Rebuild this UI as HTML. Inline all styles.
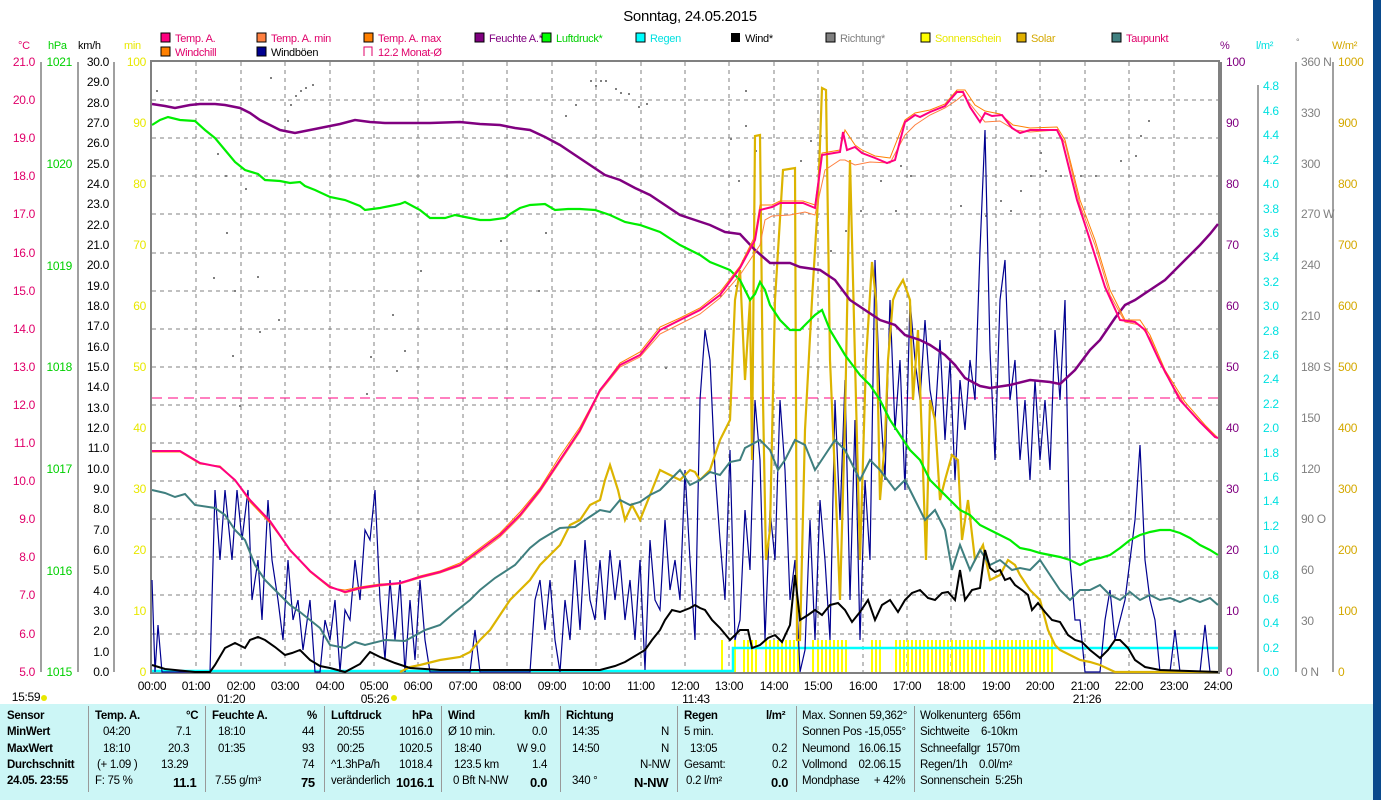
<!DOCTYPE html>
<html><head><meta charset="utf-8"><style>
body{margin:0;background:#fff;width:1381px;height:800px;overflow:hidden;position:relative;font-family:"Liberation Sans",sans-serif;}
svg{position:absolute;left:0;top:0}
.t{font-family:"Liberation Sans",sans-serif;font-size:12px;letter-spacing:-0.3px}
#tbl{position:absolute;left:0;top:704px;width:1373px;height:96px;background:#ccf6f6;font-size:11.5px;letter-spacing:-0.3px;font-family:"Liberation Sans",sans-serif}
#tbl div{position:absolute;white-space:nowrap}
.b{font-weight:bold}
.sep{width:1px;background:#999;top:2px;height:86px}
</style></head><body>
<svg width="1381" height="800" xmlns="http://www.w3.org/2000/svg">
<rect x="1373" y="0" width="8" height="800" fill="#0a4a8c"/>
<text x="690" y="21" font-size="15" text-anchor="middle" class="t" style="font-size:15px">Sonntag, 24.05.2015</text>
<g class="t" font-size="11">
<rect x="161" y="33" width="9" height="9" fill="#ff0080" stroke="#000"/><text x="175" y="42" fill="#e0006a" font-size="11">Temp. A.</text>
<rect x="257" y="33" width="9" height="9" fill="#ff8040" stroke="#000"/><text x="271" y="42" fill="#e0006a" font-size="11">Temp. A. min</text>
<rect x="364" y="33" width="9" height="9" fill="#ff8000" stroke="#000"/><text x="378" y="42" fill="#e0006a" font-size="11">Temp. A. max</text>
<rect x="475" y="33" width="9" height="9" fill="#800080" stroke="#000"/><text x="489" y="42" fill="#800080" font-size="11">Feuchte A.*</text>
<rect x="542" y="33" width="9" height="9" fill="#00ff00" stroke="#000"/><text x="556" y="42" fill="#00d000" font-size="11">Luftdruck*</text>
<rect x="636" y="33" width="9" height="9" fill="#00ffff" stroke="#000"/><text x="650" y="42" fill="#00e0e0" font-size="11">Regen</text>
<rect x="731" y="33" width="9" height="9" fill="#000"/><text x="745" y="42" fill="#000" font-size="11">Wind*</text>
<rect x="826" y="33" width="9" height="9" fill="#808080" stroke="#000"/><text x="840" y="42" fill="#808080" font-size="11">Richtung*</text>
<rect x="921" y="33" width="9" height="9" fill="#ffff00" stroke="#000"/><text x="935" y="42" fill="#e8e800" font-size="11">Sonnenschein</text>
<rect x="1017" y="33" width="9" height="9" fill="#e0b000" stroke="#000"/><text x="1031" y="42" fill="#d4a800" font-size="11">Solar</text>
<rect x="1112" y="33" width="9" height="9" fill="#408080" stroke="#000"/><text x="1126" y="42" fill="#e0006a" font-size="11">Taupunkt</text>
<rect x="161" y="47" width="9" height="9" fill="#ff8000" stroke="#000"/><text x="175" y="56" fill="#e0006a" font-size="11">Windchill</text>
<rect x="257" y="47" width="9" height="9" fill="#000090" stroke="#000"/><text x="271" y="56" fill="#000" font-size="11">Windböen</text>
<path d="M364 56V47h8v9" fill="none" stroke="#e0006a"/><text x="378" y="56" fill="#e0006a" font-size="11">12.2 Monat-Ø</text>
</g>
<g font-size="11" class="t">
<text x="18" y="49" fill="#e0006a" font-size="11">°C</text>
<text x="48" y="49" fill="#00d000" font-size="11">hPa</text>
<text x="78" y="49" fill="#000" font-size="11">km/h</text>
<text x="124" y="49" fill="#e8e800" font-size="11">min</text>
<text x="1220" y="49" fill="#800080" font-size="11">%</text>
<text x="1256" y="49" fill="#00e0e0" font-size="11">l/m²</text>
<text x="1296" y="45" fill="#808080" font-size="9">°</text>
<text x="1332" y="49" fill="#d4a800" font-size="11">W/m²</text>
</g>
<g stroke="#808080" stroke-dasharray="4,4" stroke-width="1">
<path d="M152 100H1218M152 138H1218M152 176H1218M152 214H1218M152 253H1218M152 291H1218M152 329H1218M152 367H1218M152 405H1218M152 443H1218M152 481H1218M152 519H1218M152 557H1218M152 595H1218M152 634H1218"/>
<path d="M196 62V672M241 62V672M285 62V672M330 62V672M374 62V672M418 62V672M463 62V672M507 62V672M552 62V672M596 62V672M641 62V672M685 62V672M729 62V672M774 62V672M818 62V672M863 62V672M907 62V672M951 62V672M996 62V672M1040 62V672M1085 62V672M1129 62V672M1174 62V672"/>
</g>
<rect x="151" y="61" width="1068" height="612" fill="none" stroke="#808080" stroke-width="2"/>
<path d="M1221 62V672" stroke="#808080" stroke-width="2"/>
<g stroke="#808080" stroke-width="1.5" fill="none">
<path d="M41 62V672M78 62V672M114 62V672M1258 85V672M1296 62V672M1333 62V672"/>
</g>
<g font-size="11" class="t" text-anchor="end">
<g fill="#e0006a">
<text x="35" y="66">21.0</text><text x="35" y="104">20.0</text><text x="35" y="142">19.0</text><text x="35" y="180">18.0</text><text x="35" y="218">17.0</text><text x="35" y="257">16.0</text><text x="35" y="295">15.0</text><text x="35" y="333">14.0</text><text x="35" y="371">13.0</text><text x="35" y="409">12.0</text><text x="35" y="447">11.0</text><text x="35" y="485">10.0</text><text x="35" y="523">9.0</text><text x="35" y="561">8.0</text><text x="35" y="599">7.0</text><text x="35" y="638">6.0</text><text x="35" y="676">5.0</text>
</g>
<g fill="#00d000">
<text x="72" y="66">1021</text><text x="72" y="168">1020</text><text x="72" y="270">1019</text><text x="72" y="371">1018</text><text x="72" y="473">1017</text><text x="72" y="575">1016</text><text x="72" y="676">1015</text>
</g>
<g fill="#000">
<text x="109" y="66">30.0</text><text x="109" y="86">29.0</text><text x="109" y="107">28.0</text><text x="109" y="127">27.0</text><text x="109" y="147">26.0</text><text x="109" y="168">25.0</text><text x="109" y="188">24.0</text><text x="109" y="208">23.0</text><text x="109" y="229">22.0</text><text x="109" y="249">21.0</text><text x="109" y="269">20.0</text><text x="109" y="290">19.0</text><text x="109" y="310">18.0</text><text x="109" y="330">17.0</text><text x="109" y="351">16.0</text><text x="109" y="371">15.0</text><text x="109" y="391">14.0</text><text x="109" y="412">13.0</text><text x="109" y="432">12.0</text><text x="109" y="452">11.0</text><text x="109" y="473">10.0</text><text x="109" y="493">9.0</text><text x="109" y="513">8.0</text><text x="109" y="534">7.0</text><text x="109" y="554">6.0</text><text x="109" y="574">5.0</text><text x="109" y="595">4.0</text><text x="109" y="615">3.0</text><text x="109" y="635">2.0</text><text x="109" y="656">1.0</text><text x="109" y="676">0.0</text>
</g>
<g fill="#e8e800">
<text x="146" y="66">100</text><text x="146" y="127">90</text><text x="146" y="188">80</text><text x="146" y="249">70</text><text x="146" y="310">60</text><text x="146" y="371">50</text><text x="146" y="432">40</text><text x="146" y="493">30</text><text x="146" y="554">20</text><text x="146" y="615">10</text><text x="146" y="676">0</text>
</g>
</g>
<g font-size="11" class="t">
<g fill="#800080">
<text x="1226" y="66">100</text><text x="1226" y="127">90</text><text x="1226" y="188">80</text><text x="1226" y="249">70</text><text x="1226" y="310">60</text><text x="1226" y="371">50</text><text x="1226" y="432">40</text><text x="1226" y="493">30</text><text x="1226" y="554">20</text><text x="1226" y="615">10</text><text x="1226" y="676">0</text>
</g>
<g fill="#00e0e0">
<text x="1263" y="90">4.8</text><text x="1263" y="115">4.6</text><text x="1263" y="139">4.4</text><text x="1263" y="164">4.2</text><text x="1263" y="188">4.0</text><text x="1263" y="213">3.8</text><text x="1263" y="237">3.6</text><text x="1263" y="261">3.4</text><text x="1263" y="286">3.2</text><text x="1263" y="310">3.0</text><text x="1263" y="335">2.8</text><text x="1263" y="359">2.6</text><text x="1263" y="383">2.4</text><text x="1263" y="408">2.2</text><text x="1263" y="432">2.0</text><text x="1263" y="457">1.8</text><text x="1263" y="481">1.6</text><text x="1263" y="505">1.4</text><text x="1263" y="530">1.2</text><text x="1263" y="554">1.0</text><text x="1263" y="579">0.8</text><text x="1263" y="603">0.6</text><text x="1263" y="627">0.4</text><text x="1263" y="652">0.2</text><text x="1263" y="676">0.0</text>
</g>
<g fill="#808080">
<text x="1301" y="66">360 N</text><text x="1301" y="117">330</text><text x="1301" y="168">300</text><text x="1301" y="218">270 W</text><text x="1301" y="269">240</text><text x="1301" y="320">210</text><text x="1301" y="371">180 S</text><text x="1301" y="422">150</text><text x="1301" y="473">120</text><text x="1301" y="523">90 O</text><text x="1301" y="574">60</text><text x="1301" y="625">30</text><text x="1301" y="676">0 N</text>
</g>
<g fill="#d4a800">
<text x="1338" y="66">1000</text><text x="1338" y="127">900</text><text x="1338" y="188">800</text><text x="1338" y="249">700</text><text x="1338" y="310">600</text><text x="1338" y="371">500</text><text x="1338" y="432">400</text><text x="1338" y="493">300</text><text x="1338" y="554">200</text><text x="1338" y="615">100</text><text x="1338" y="676">0</text>
</g>
</g>
<g font-size="11" class="t" text-anchor="middle" fill="#000">
<text x="152" y="690">00:00</text><text x="196" y="690">01:00</text><text x="241" y="690">02:00</text><text x="285" y="690">03:00</text><text x="330" y="690">04:00</text><text x="374" y="690">05:00</text><text x="418" y="690">06:00</text><text x="463" y="690">07:00</text><text x="507" y="690">08:00</text><text x="552" y="690">09:00</text><text x="596" y="690">10:00</text><text x="641" y="690">11:00</text><text x="685" y="690">12:00</text><text x="729" y="690">13:00</text><text x="774" y="690">14:00</text><text x="818" y="690">15:00</text><text x="863" y="690">16:00</text><text x="907" y="690">17:00</text><text x="951" y="690">18:00</text><text x="996" y="690">19:00</text><text x="1040" y="690">20:00</text><text x="1085" y="690">21:00</text><text x="1129" y="690">22:00</text><text x="1174" y="690">23:00</text><text x="1218" y="690">24:00</text>
<text x="26" y="701">15:59</text><text x="231" y="703">01:20</text><text x="375" y="703">05:26</text><text x="696" y="703">11:43</text><text x="1087" y="703">21:26</text>
</g>
<circle cx="44" cy="698" r="3" fill="#e8e800"/><circle cx="394" cy="698" r="3" fill="#e8e800"/>
<path d="M152 398H1218" stroke="#ff0080" stroke-dasharray="10,6" stroke-width="1"/>
<path d="M722 640V672M735 640V672M744 640V672M748 640V672M752 640V672M756 640V672M766 640V672M770 640V672M774 640V672M778 640V672M782 640V672M786 640V672M790 640V672M794 640V672M798 640V672M813 640V672M818 640V672M822 640V672M826 640V672M830 640V672M834 640V672M838 640V672M842 640V672M846 640V672M872 640V672M876 640V672M880 640V672M896 640V672M900 640V672M904 640V672M908 640V672M912 640V672M916 640V672M920 640V672M924 640V672M928 640V672M932 640V672M936 640V672M940 640V672M944 640V672M948 640V672M952 640V672M956 640V672M960 640V672M964 640V672M968 640V672M972 640V672M976 640V672M980 640V672M984 640V672M992 640V672M996 640V672M1000 640V672M1004 640V672M1008 640V672M1012 640V672M1016 640V672M1020 640V672M1024 640V672M1028 640V672M1032 640V672M1036 640V672M1040 640V672M1044 640V672M1048 640V672M1052 640V672" stroke="#ffff00" stroke-width="2"/>
<path d="M152 671H733V648H1218" stroke="#00ffff" stroke-width="2.5" fill="none"/>
<g fill="#808080">
<rect x="156" y="90" width="2" height="2"/><rect x="290" y="104" width="2" height="2"/><rect x="295" y="95" width="2" height="2"/><rect x="300" y="90" width="2" height="2"/><rect x="305" y="87" width="2" height="2"/><rect x="312" y="84" width="2" height="2"/><rect x="287" y="120" width="2" height="2"/><rect x="270" y="77" width="2" height="2"/><rect x="217" y="153" width="2" height="2"/><rect x="225" y="175" width="2" height="2"/><rect x="245" y="188" width="2" height="2"/><rect x="226" y="232" width="2" height="2"/><rect x="257" y="276" width="2" height="2"/><rect x="213" y="277" width="2" height="2"/><rect x="234" y="290" width="2" height="2"/><rect x="259" y="331" width="2" height="2"/><rect x="232" y="355" width="2" height="2"/><rect x="278" y="319" width="2" height="2"/><rect x="239" y="405" width="2" height="2"/><rect x="392" y="314" width="2" height="2"/><rect x="370" y="356" width="2" height="2"/><rect x="404" y="350" width="2" height="2"/><rect x="366" y="393" width="2" height="2"/><rect x="396" y="370" width="2" height="2"/><rect x="590" y="80" width="2" height="2"/><rect x="595" y="85" width="2" height="2"/><rect x="600" y="80" width="2" height="2"/><rect x="605" y="80" width="2" height="2"/><rect x="615" y="88" width="2" height="2"/><rect x="620" y="92" width="2" height="2"/><rect x="628" y="93" width="2" height="2"/><rect x="575" y="104" width="2" height="2"/><rect x="565" y="115" width="2" height="2"/><rect x="638" y="106" width="2" height="2"/><rect x="646" y="103" width="2" height="2"/><rect x="545" y="232" width="2" height="2"/><rect x="500" y="240" width="2" height="2"/><rect x="538" y="290" width="2" height="2"/><rect x="420" y="270" width="2" height="2"/><rect x="665" y="367" width="2" height="2"/><rect x="720" y="295" width="2" height="2"/><rect x="735" y="285" width="2" height="2"/><rect x="742" y="260" width="2" height="2"/><rect x="730" y="138" width="2" height="2"/><rect x="745" y="125" width="2" height="2"/><rect x="738" y="180" width="2" height="2"/><rect x="755" y="150" width="2" height="2"/><rect x="745" y="90" width="2" height="2"/><rect x="780" y="200" width="2" height="2"/><rect x="794" y="178" width="2" height="2"/><rect x="800" y="160" width="2" height="2"/><rect x="810" y="140" width="2" height="2"/><rect x="820" y="135" width="2" height="2"/><rect x="830" y="250" width="2" height="2"/><rect x="845" y="230" width="2" height="2"/><rect x="860" y="210" width="2" height="2"/><rect x="880" y="180" width="2" height="2"/><rect x="900" y="165" width="2" height="2"/><rect x="895" y="210" width="2" height="2"/><rect x="910" y="175" width="2" height="2"/><rect x="1000" y="200" width="2" height="2"/><rect x="1010" y="210" width="2" height="2"/><rect x="1020" y="190" width="2" height="2"/><rect x="1030" y="175" width="2" height="2"/><rect x="1045" y="170" width="2" height="2"/><rect x="1060" y="175" width="2" height="2"/><rect x="1080" y="175" width="2" height="2"/><rect x="1095" y="175" width="2" height="2"/><rect x="1120" y="160" width="2" height="2"/><rect x="1135" y="155" width="2" height="2"/><rect x="1140" y="135" width="2" height="2"/><rect x="1148" y="120" width="2" height="2"/><rect x="1040" y="152" width="2" height="2"/><rect x="1070" y="175" width="2" height="2"/><rect x="960" y="205" width="2" height="2"/><rect x="985" y="215" width="2" height="2"/>
</g>
<polyline fill="none" stroke="#000090" stroke-width="1.2" points="152,580 155,672 158,625 162,672 210,672 215,490 220,560 225,490 232,560 237,490 242,540 248,490 252,600 258,560 262,620 268,500 272,560 278,600 283,640 288,560 293,620 298,600 303,650 310,600 315,672 320,672 325,620 330,640 335,600 340,672 345,610 350,620 355,560 360,600 365,530 370,540 375,490 380,600 385,660 390,580 395,640 400,580 405,672 410,600 415,660 420,580 425,640 430,672 470,672 475,630 480,672 530,672 535,600 540,580 545,630 550,580 555,640 560,672 565,600 570,640 575,560 580,630 585,540 590,600 595,620 600,560 605,620 610,550 615,600 620,560 625,620 630,580 635,640 640,560 645,670 650,540 655,600 660,610 665,520 670,590 675,560 680,600 685,470 690,560 695,640 700,400 705,330 710,360 715,470 720,540 725,600 730,450 735,640 740,620 745,510 750,570 755,400 760,460 765,640 770,510 775,560 780,400 785,470 790,600 795,560 800,672 805,650 810,520 815,640 820,500 825,560 830,640 835,400 840,520 845,380 850,600 855,420 860,640 865,480 870,560 875,260 880,400 885,480 890,300 895,430 900,360 905,490 910,300 915,360 920,400 925,320 930,390 935,420 940,340 945,440 950,360 955,480 960,380 965,430 970,360 975,400 980,250 985,130 990,350 995,460 1000,300 1005,260 1010,400 1015,360 1020,460 1025,400 1030,480 1035,380 1040,460 1045,400 1050,470 1055,330 1060,400 1065,300 1070,560 1075,620 1080,620 1085,672 1100,672 1105,620 1110,590 1115,640 1120,620 1125,600 1130,560 1135,520 1140,445 1145,560 1150,600 1155,620 1160,672 1170,672 1175,630 1180,672 1200,672 1205,625 1210,672 1218,672"/>
<polyline fill="none" stroke="#dcb400" stroke-width="2.2" points="400,672 410,667 420,665 440,660 460,657 470,652 480,640 490,630 500,615 510,600 520,590 530,580 540,565 550,555 560,545 570,525 580,520 590,505 600,500 605,480 610,465 618,490 625,520 632,505 640,520 648,500 660,470 670,475 680,480 690,470 695,472 700,480 710,470 720,440 730,420 735,300 740,270 745,380 750,300 752,460 755,136 760,135 763,400 766,560 770,530 775,300 783,170 795,168 797,640 800,640 805,430 812,300 818,200 822,88 826,90 830,360 836,500 840,600 845,420 850,160 856,400 860,560 866,360 872,262 876,300 880,500 885,440 888,360 893,300 897,290 903,280 910,300 913,400 918,330 922,440 926,560 930,400 935,420 940,500 945,480 952,455 958,460 962,540 968,500 975,560 983,545 990,580 1000,575 1008,560 1015,565 1020,575 1030,590 1040,600 1048,630 1055,645 1060,650 1070,655 1080,660 1090,662 1100,665 1115,672 1218,672"/>
<polyline fill="none" stroke="#3f7f7f" stroke-width="2" points="152,490 165,493 175,497 185,494 195,505 215,508 225,515 235,530 245,540 255,565 265,580 275,590 290,605 300,612 320,628 330,645 345,648 355,642 365,645 385,640 405,641 425,630 440,625 455,612 470,600 480,590 495,578 515,565 530,548 540,540 560,528 575,527 585,520 600,510 610,512 620,500 630,505 640,502 650,495 660,490 670,480 680,470 690,485 700,480 710,472 720,475 730,462 740,460 745,448 760,440 770,450 778,470 785,460 795,440 805,445 815,470 825,455 835,440 845,450 855,470 860,480 870,460 880,470 895,490 905,480 915,500 925,520 935,510 945,530 952,570 960,545 970,570 980,550 990,565 1000,560 1012,570 1020,568 1030,570 1040,560 1050,575 1060,590 1070,600 1080,590 1090,590 1100,585 1110,595 1120,600 1130,592 1140,600 1150,595 1160,600 1170,598 1180,602 1190,598 1200,602 1210,598 1218,605"/>
<polyline fill="none" stroke="#00ee00" stroke-width="2.2" points="152,125 160,120 168,117 180,120 195,121 205,130 215,138 225,150 235,162 245,170 258,174 265,180 280,181 290,183 300,182 305,186 315,190 330,197 345,200 360,206 365,210 380,208 390,206 400,204 405,202 420,210 430,218 445,218 455,215 470,218 480,220 490,220 505,218 510,214 520,208 530,205 545,204 555,210 568,209 580,209 595,210 610,215 625,222 640,225 660,232 680,245 690,250 700,255 710,262 720,266 730,270 740,280 745,290 750,300 755,294 760,282 765,290 770,305 780,320 790,330 800,330 810,320 815,315 822,310 830,330 845,355 860,375 870,385 880,400 890,420 900,435 910,450 920,460 930,480 940,490 950,500 960,510 970,515 980,525 990,530 1000,535 1010,540 1020,548 1030,550 1040,553 1050,555 1060,557 1070,560 1080,565 1090,560 1100,558 1110,555 1120,548 1130,540 1140,535 1150,532 1160,530 1170,530 1180,533 1190,538 1200,545 1210,550 1218,555"/>
<polyline fill="none" stroke="#800080" stroke-width="2.5" points="152,104 165,106 175,108 190,105 200,104 215,104 225,105 240,108 250,113 260,120 270,125 280,130 295,133 310,130 320,128 340,124 355,120 370,122 385,123 400,123 430,123 460,122 480,124 500,125 515,128 530,130 545,137 560,145 575,155 590,165 605,175 620,180 635,188 650,195 665,205 680,215 695,220 710,225 725,232 740,234 755,250 770,263 790,263 800,267 820,270 835,280 850,300 865,310 880,320 895,325 905,335 920,340 930,345 945,355 955,365 965,378 980,386 990,388 1010,385 1030,380 1050,382 1060,384 1075,370 1090,350 1100,340 1115,318 1125,305 1135,300 1150,290 1165,280 1175,270 1190,255 1200,245 1210,234 1218,224"/>
<polyline fill="none" stroke="#000" stroke-width="2" points="152,665 165,669 175,670 195,672 210,672 215,665 225,648 235,643 245,648 250,640 258,637 265,640 275,647 285,655 292,653 300,650 310,660 320,666 330,668 345,672 360,664 370,652 380,657 395,663 410,668 440,670 600,670 615,666 625,662 635,656 645,650 652,640 660,630 665,620 672,610 680,612 690,608 695,605 700,608 705,610 712,620 720,628 730,640 740,630 748,630 752,648 760,645 768,638 775,635 782,642 790,625 795,575 800,620 808,615 815,610 822,615 830,605 838,603 845,610 852,622 860,612 868,600 875,620 882,605 890,600 898,612 905,600 912,593 920,590 928,598 935,600 942,593 948,592 955,600 960,570 965,600 972,590 980,588 985,550 990,568 995,572 1000,570 1005,580 1010,578 1015,585 1022,590 1028,595 1032,610 1038,603 1045,612 1052,620 1060,622 1068,635 1075,640 1082,642 1090,650 1100,658 1108,650 1115,640 1120,640 1128,648 1135,660 1145,667 1160,670 1218,672"/>
<polyline fill="none" stroke="#ff8000" stroke-width="1" points="152,452 180,452 200,464 220,466 235,480 250,502 270,523 290,550 310,572 330,588 345,590 360,587 380,584 400,583 420,576 440,571 460,563 480,548 500,533 520,512 540,488 560,456 580,427 600,390 620,363 640,352 660,327 680,318 700,308 720,292 740,266 755,236 760,205 772,205 780,201 803,201 815,205 822,153 840,150 845,130 855,145 862,150 875,156 890,158 905,120 915,113 930,110 945,104 957,90 965,90 975,105 985,111 1000,114 1013,125 1030,128 1057,127 1065,140 1080,200 1095,240 1110,290 1125,320 1140,320 1150,335 1165,370 1185,402 1205,425 1218,438"/>
<polyline fill="none" stroke="#ff8040" stroke-width="1" points="152,451 180,451 200,463 220,467 235,481 250,501 270,521 290,551 310,571 330,586 345,593 360,589 380,586 400,584 420,578 440,573 460,566 480,552 500,537 520,517 540,492 560,462 580,432 600,392 620,367 640,357 660,334 680,324 700,314 720,298 740,275 760,245 765,220 772,216 790,215 805,212 815,215 825,170 840,160 845,160 855,165 870,162 890,163 905,135 915,125 930,115 945,108 957,100 963,95 975,110 985,122 1000,121 1015,130 1030,132 1057,130 1065,143 1080,205 1095,245 1110,295 1125,322 1140,325 1150,338 1165,373 1185,405 1205,427 1218,438"/>
<polyline fill="none" stroke="#ff0080" stroke-width="2" points="152,451 180,451 200,463 220,467 235,480 250,500 270,521 290,550 310,571 330,587 345,592 360,588 380,585 400,583 420,577 440,572 460,565 480,550 500,535 520,515 540,490 560,460 580,430 600,390 620,365 640,355 660,330 680,320 700,310 720,295 740,268 755,240 760,210 772,207 780,203 803,203 815,208 822,155 840,152 843,132 847,150 855,147 862,153 875,158 887,163 895,160 905,122 915,115 920,117 930,112 945,106 950,100 957,92 963,92 970,107 980,122 985,113 992,116 1002,115 1012,128 1020,133 1030,130 1057,130 1062,140 1077,200 1090,240 1105,287 1120,320 1135,322 1145,330 1160,362 1180,400 1200,422 1215,437 1218,438"/>
</svg>
<div id="tbl">
<div class="sep" style="left:88px"></div><div class="sep" style="left:205px"></div><div class="sep" style="left:324px"></div><div class="sep" style="left:441px"></div><div class="sep" style="left:560px"></div><div class="sep" style="left:677px"></div><div class="sep" style="left:796px"></div><div class="sep" style="left:914px"></div>
<div class="b" style="left:7px;top:6px">Sensor</div><div class="b" style="left:7px;top:22px">MinWert</div><div class="b" style="left:7px;top:39px">MaxWert</div><div class="b" style="left:7px;top:55px">Durchschnitt</div><div class="b" style="left:7px;top:71px">24.05. 23:55</div>
<div class="b" style="left:95px;top:6px">Temp. A.</div><div class="b" style="left:186px;top:6px">°C</div>
<div style="left:103px;top:22px">04:20</div><div style="left:176px;top:22px">7.1</div>
<div style="left:103px;top:39px">18:10</div><div style="left:168px;top:39px">20.3</div>
<div style="left:97px;top:55px">(+ 1.09 )</div><div style="left:161px;top:55px">13.29</div>
<div style="left:95px;top:71px">F: 75 %</div><div class="b" style="left:173px;top:71px;font-size:13px">11.1</div>
<div class="b" style="left:212px;top:6px">Feuchte A.</div><div class="b" style="left:307px;top:6px">%</div>
<div style="left:218px;top:22px">18:10</div><div style="left:302px;top:22px">44</div>
<div style="left:218px;top:39px">01:35</div><div style="left:302px;top:39px">93</div>
<div style="left:302px;top:55px">74</div>
<div style="left:215px;top:71px">7.55 g/m³</div><div class="b" style="left:301px;top:71px;font-size:13px">75</div>
<div class="b" style="left:331px;top:6px">Luftdruck</div><div class="b" style="left:412px;top:6px">hPa</div>
<div style="left:337px;top:22px">20:55</div><div style="left:399px;top:22px">1016.0</div>
<div style="left:337px;top:39px">00:25</div><div style="left:399px;top:39px">1020.5</div>
<div style="left:331px;top:55px">^1.3hPa/h</div><div style="left:399px;top:55px">1018.4</div>
<div style="left:331px;top:71px">veränderlich</div><div class="b" style="left:396px;top:71px;font-size:13px">1016.1</div>
<div class="b" style="left:448px;top:6px">Wind</div><div class="b" style="left:524px;top:6px">km/h</div>
<div style="left:448px;top:22px">Ø 10 min.</div><div style="left:532px;top:22px">0.0</div>
<div style="left:454px;top:39px">18:40</div><div style="left:517px;top:39px">W 9.0</div>
<div style="left:454px;top:55px">123.5 km</div><div style="left:532px;top:55px">1.4</div>
<div style="left:453px;top:71px">0 Bft N-NW</div><div class="b" style="left:530px;top:71px;font-size:13px">0.0</div>
<div class="b" style="left:566px;top:6px">Richtung</div>
<div style="left:572px;top:22px">14:35</div><div style="left:661px;top:22px">N</div>
<div style="left:572px;top:39px">14:50</div><div style="left:661px;top:39px">N</div>
<div style="left:640px;top:55px">N-NW</div>
<div style="left:572px;top:71px">340 °</div><div class="b" style="left:634px;top:71px;font-size:13px">N-NW</div>
<div class="b" style="left:684px;top:6px">Regen</div><div class="b" style="left:766px;top:6px">l/m²</div>
<div style="left:684px;top:22px">5 min.</div>
<div style="left:690px;top:39px">13:05</div><div style="left:772px;top:39px">0.2</div>
<div style="left:684px;top:55px">Gesamt:</div><div style="left:772px;top:55px">0.2</div>
<div style="left:686px;top:71px">0.2 l/m²</div><div class="b" style="left:771px;top:71px;font-size:13px">0.0</div>
<div style="left:802px;top:6px">Max. Sonnen 59,362°</div>
<div style="left:802px;top:22px">Sonnen Pos -15,055°</div>
<div style="left:802px;top:39px">Neumond &nbsp;&nbsp;16.06.15</div>
<div style="left:802px;top:55px">Vollmond &nbsp;&nbsp;&nbsp;02.06.15</div>
<div style="left:802px;top:71px">Mondphase &nbsp;&nbsp;&nbsp;&nbsp;+ 42%</div>
<div style="left:920px;top:6px">Wolkenunterg &nbsp;656m</div>
<div style="left:920px;top:22px">Sichtweite &nbsp;&nbsp;&nbsp;6-10km</div>
<div style="left:920px;top:39px">Schneefallgr &nbsp;1570m</div>
<div style="left:920px;top:55px">Regen/1h &nbsp;&nbsp;&nbsp;0.0l/m²</div>
<div style="left:920px;top:71px">Sonnenschein &nbsp;5:25h</div>
</div>
</body></html>
